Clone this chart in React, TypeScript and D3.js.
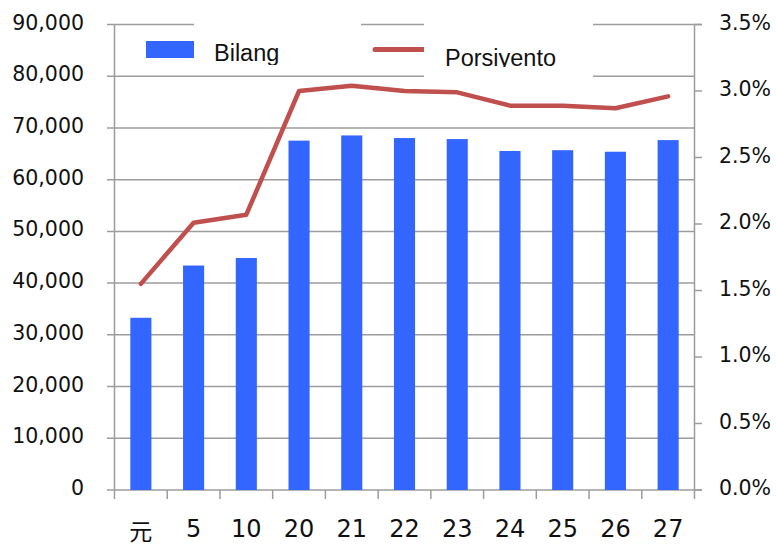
import React from 'react';
import * as d3 from 'd3';

const categories = ['元', '5', '10', '20', '21', '22', '23', '24', '25', '26', '27'];
const bilang = [33300, 43400, 44850, 67550, 68550, 68050, 67850, 65550, 65700, 65400, 67650];
const porsiyento = [1.55, 2.01, 2.07, 3.0, 3.04, 3.0, 2.99, 2.89, 2.89, 2.87, 2.96];
const leftTicks = [0, 10000, 20000, 30000, 40000, 50000, 60000, 70000, 80000, 90000];
const rightTicks = [0, 0.5, 1, 1.5, 2, 2.5, 3, 3.5];

const width = 776;
const height = 547;
const left = 114.5;
const right = 694.5;
const top = 24.5;
const bottom = 490;

const axisColor = '#9c9c9c';
const barColor = '#3366ff';
const lineColor = '#c0504d';

export default function App() {
  const x = d3.scaleBand().domain(categories).range([left, right]).padding(0);
  const yL = d3.scaleLinear().domain([0, 90000]).range([bottom, top]);
  const yR = d3.scaleLinear().domain([0, 3.5]).range([bottom, top]);
  const barW = x.bandwidth() * 0.4;
  const fmt = d3.format(',');

  const line = d3
    .line<number>()
    .x((d, i) => x(categories[i])! + x.bandwidth() / 2)
    .y((d) => yR(d));

  return (
    <svg width={width} height={height} style={{ position: 'absolute', left: 0, top: 0 }}>
      <defs>
        <clipPath id="clipBilang">
          <rect x={194} y={18} width={167} height={47} />
        </clipPath>
        <clipPath id="clipPors">
          <rect x={424} y={18} width={169} height={49} />
        </clipPath>
      </defs>

      {/* gridlines + left ticks */}
      {leftTicks.map((t) => (
        <line
          key={'g' + t}
          x1={107}
          x2={t === 90000 || t === 0 ? 702 : right}
          y1={yL(t)}
          y2={yL(t)}
          stroke={axisColor}
          strokeWidth={1.5}
        />
      ))}
      {leftTicks.map((t) => (
        <text
          key={'l' + t}
          x={84}
          y={yL(t) + 5}
          textAnchor="end"
          fontFamily="DejaVu Sans"
          fontSize={20.5}
          fill="#111"
        >
          {fmt(t)}
        </text>
      ))}

      {/* axes */}
      <line x1={left} x2={left} y1={top} y2={bottom} stroke={axisColor} strokeWidth={1.5} />
      <line x1={right} x2={right} y1={top} y2={bottom} stroke={axisColor} strokeWidth={1.5} />
      {rightTicks.map((t) => (
        <g key={'r' + t}>
          <line x1={right} x2={702} y1={yR(t)} y2={yR(t)} stroke={axisColor} strokeWidth={1.5} />
          <text x={719} y={yR(t) + 5} fontFamily="DejaVu Sans" fontSize={20.5} fill="#111">
            {t.toFixed(1) + '%'}
          </text>
        </g>
      ))}
      {d3.range(categories.length + 1).map((i) => (
        <line
          key={'xt' + i}
          x1={left + i * x.bandwidth()}
          x2={left + i * x.bandwidth()}
          y1={bottom}
          y2={499}
          stroke={axisColor}
          strokeWidth={1.5}
        />
      ))}
      {categories.map((c) => (
        <text
          key={'c' + c}
          x={x(c)! + x.bandwidth() / 2}
          y={c === '元' ? 540 : 537}
          textAnchor="middle"
          fontFamily="DejaVu Sans, Noto Sans CJK JP"
          fontSize={c === '元' ? 23 : 24}
          fill="#111"
        >
          {c}
        </text>
      ))}

      {/* bars */}
      {bilang.map((v, i) => (
        <rect
          key={'b' + i}
          x={x(categories[i])! + (x.bandwidth() - barW) / 2}
          y={yL(v)}
          width={barW}
          height={bottom - yL(v)}
          fill={barColor}
        />
      ))}

      {/* line */}
      <path
        d={line(porsiyento)!}
        fill="none"
        stroke={lineColor}
        strokeWidth={4.5}
        strokeLinejoin="round"
        strokeLinecap="round"
      />

      {/* legend */}
      <rect x={146} y={41} width={48} height={17} fill={barColor} />
      <rect x={194} y={18} width={167} height={47} fill="#fff" />
      <text
        x={214}
        y={61}
        fontFamily="Liberation Sans, Arial"
        fontSize={23.5}
        fill="#111"
        clipPath="url(#clipBilang)"
      >
        Bilang
      </text>
      <line x1={375} x2={424} y1={49.5} y2={49.5} stroke={lineColor} strokeWidth={5} strokeLinecap="round" />
      <rect x={424} y={18} width={169} height={61} fill="#fff" />
      <text
        x={445}
        y={65.5}
        fontFamily="Liberation Sans, Arial"
        fontSize={23.5}
        fill="#111"
        clipPath="url(#clipPors)"
      >
        Porsiyento
      </text>
    </svg>
  );
}
